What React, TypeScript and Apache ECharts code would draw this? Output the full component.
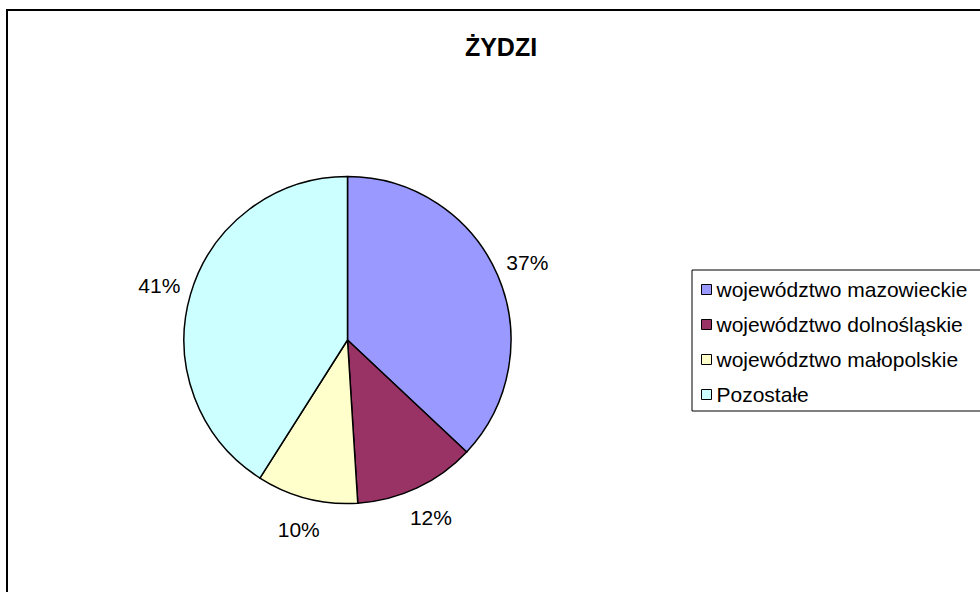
import React, { useEffect, useRef } from "react";
import * as echarts from "echarts";

const categories = [
  "województwo mazowieckie",
  "województwo dolnośląskie",
  "województwo małopolskie",
  "Pozostałe",
];
const values = [37, 12, 10, 41];
const colors = ["#9999FF", "#993366", "#FFFFCC", "#CCFFFF"];
const titleText = "ŻYDZI";

const FONT = '"Liberation Sans", Arial, sans-serif';

export default function App() {
  const ref = useRef<HTMLDivElement>(null);
  useEffect(() => {
    if (!ref.current) return;
    const chart = echarts.init(ref.current, undefined, { renderer: "svg" });
    const data = categories.map((name, i) => ({
      name,
      value: values[i],
      itemStyle: { color: colors[i] },
    }));
    chart.setOption({
      animation: false,
      backgroundColor: "#ffffff",
      textStyle: { fontFamily: FONT },
      graphic: [
        {
          type: "rect",
          shape: { x: 7, y: 10, width: 1010, height: 620 },
          style: { fill: "none", stroke: "#000", lineWidth: 2 },
          z: -1,
          silent: true,
        },
        {
          type: "text",
          x: 501,
          y: 47,
          style: {
            text: titleText,
            fontFamily: FONT,
            fontWeight: "bold",
            fontSize: 25,
            fill: "#000",
            align: "center",
            verticalAlign: "middle",
          },
        },
      ],
      legend: {
        orient: "vertical",
        left: 692,
        top: 270,
        data: categories,
        icon: "rect",
        itemWidth: 10,
        itemHeight: 10,
        itemGap: 14,
        itemStyle: { borderColor: "#000", borderWidth: 1 },
        textStyle: { fontFamily: FONT, fontSize: 21, color: "#000", lineHeight: 21 },
        borderColor: "#000",
        borderWidth: 1,
        padding: [9, 60, 6, 9],
        selectedMode: false,
      },
      series: [
        {
          type: "pie",
          center: [347.5, 340],
          radius: 163.5,
          startAngle: 90,
          clockwise: true,
          data,
          label: { show: false },
          labelLine: { show: false },
          itemStyle: { borderColor: "#000", borderWidth: 1.5 },
          emphasis: { disabled: true },
          silent: true,
        },
        {
          type: "pie",
          center: [347.5, 340],
          radius: [183, 203],
          startAngle: 90,
          clockwise: true,
          data: categories.map((name, i) => ({ name, value: values[i] })),
          itemStyle: { color: "rgba(0,0,0,0)" },
          label: {
            show: true,
            position: "inside",
            formatter: (p: any) => Math.round(p.percent) + "%",
            fontFamily: FONT,
            fontSize: 21,
            color: "#000",
          },
          labelLine: { show: false },
          emphasis: { disabled: true },
          silent: true,
        },
      ],
    });
    return () => chart.dispose();
  }, []);
  return (
    <div
      ref={ref}
      style={{ position: "fixed", left: 0, top: 0, width: 980, height: 592 }}
    />
  );
}
